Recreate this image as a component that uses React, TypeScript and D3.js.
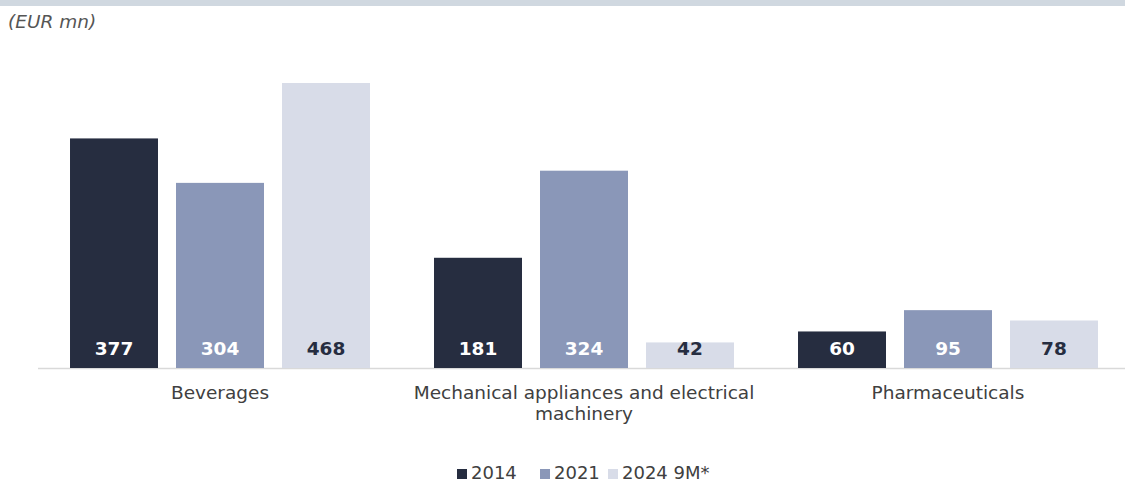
import React from "react";
import * as d3 from "d3";

const categories = ["Beverages", "Mechanical appliances and electrical machinery", "Pharmaceuticals"];
const categoryLines = [["Beverages"], ["Mechanical appliances and electrical", "machinery"], ["Pharmaceuticals"]];
const seriesNames = ["2014", "2021", "2024 9M*"];
const values2014 = [377, 181, 60];
const values2021 = [304, 324, 95];
const values2024 = [468, 42, 78];
const colors = ["#262d40", "#8a97b8", "#d8dce8"];
const labelColors = ["#ffffff", "#ffffff", "#262d40"];

export default function App() {
  const W = 1125, H = 482;
  const series = [values2014, values2021, values2024];
  const x0 = d3.scaleBand().domain(categories).range([38, 1130]).paddingInner(0).paddingOuter(0);
  const x1 = d3.scaleBand().domain(seriesNames).range([0, x0.bandwidth()]).paddingInner(0.17).paddingOuter(0.302);
  const y = d3.scaleLinear().domain([0, 468]).range([368, 83]);
  const font = "'DejaVu Sans', Verdana, sans-serif";
  const fs = 18.5;
  const legendX = [457, 540, 608];
  return (
    <svg width={W} height={H} style={{ position: "absolute", left: 0, top: 0 }} fontFamily={font}>
      <rect x={0} y={0} width={W} height={6} fill="#d0d8e0" />
      <text x={8} y={28} fontSize={fs} fontStyle="italic" fill="#555">(EUR mn)</text>
      <line x1={38} x2={1125} y1={368.5} y2={368.5} stroke="#d9d9d9" strokeWidth={1.5} />
      {categories.map((c, ci) => (
        <g key={c} transform={`translate(${x0(c)},0)`}>
          {series.map((vals, si) => {
            const bx = x1(seriesNames[si])!;
            const bw = x1.bandwidth();
            return (
              <g key={si}>
                <rect x={bx} y={y(vals[ci])} width={bw} height={y(0) - y(vals[ci])} fill={colors[si]} />
                <text x={bx + bw / 2} y={355} textAnchor="middle" fontSize={fs} fontWeight="bold" fill={labelColors[si]}>
                  {vals[ci]}
                </text>
              </g>
            );
          })}
          {categoryLines[ci].map((ln, li) => (
            <text key={li} x={x0.bandwidth() / 2} y={399 + li * 21} textAnchor="middle" fontSize={fs} fill="#404040">
              {ln}
            </text>
          ))}
        </g>
      ))}
      {seriesNames.map((s, i) => (
        <g key={s}>
          <rect x={legendX[i]} y={469} width={10} height={10} fill={colors[i]} />
          <text x={legendX[i] + 14} y={478.5} fontSize={18} fill="#404040">{s}</text>
        </g>
      ))}
    </svg>
  );
}
